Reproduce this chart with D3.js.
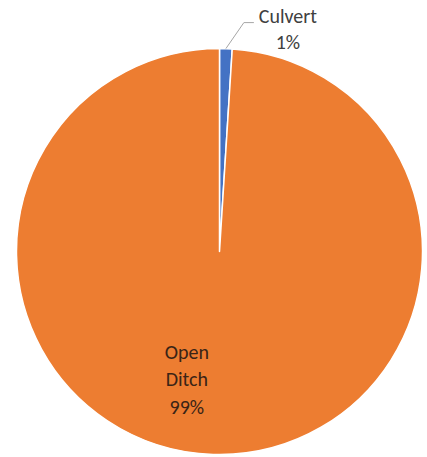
<!DOCTYPE html>
<html>
<head>
<meta charset="utf-8">
<script src="https://cdn.jsdelivr.net/npm/d3@7"></script>
<style>
  html, body { margin: 0; padding: 0; background: #ffffff; }
  svg { display: block; }
</style>
</head>
<body>
<script>
const categories = ["Culvert", "Open Ditch"];
const values = [1, 99];
const labelLines = [["Culvert", "1%"], ["Open", "Ditch", "99%"]];
const colors = ["#4472C4", "#ED7D31"];

const W = 427, H = 457;
const cx = 219.5, cy = 251.5, R = 203;

const svg = d3.select("body").append("svg")
  .attr("width", W).attr("height", H)
  .style("font-family", "Carlito, Calibri, Lato, sans-serif");

const pie = d3.pie().sort(null).value(d => d.value).startAngle(0).endAngle(2 * Math.PI);
const data = categories.map((c, i) => ({ name: c, value: values[i], i }));
const arcs = pie(data);
const arc = d3.arc().innerRadius(0).outerRadius(R);

const g = svg.append("g").attr("transform", `translate(${cx},${cy})`);

g.selectAll("path.slice").data(arcs).join("path")
  .attr("class", "slice")
  .attr("d", arc)
  .attr("fill", d => colors[d.data.i])
  .attr("stroke", "#ffffff")
  .attr("stroke-width", 1.5)
  .attr("stroke-linejoin", "round");

function polar(angle, r) { return [r * Math.sin(angle), -r * Math.cos(angle)]; }

// Culvert label (outside with leader line)
const a0 = arcs[0];
const mid0 = (a0.startAngle + a0.endAngle) / 2;
const p1 = polar(mid0, R);
const p2 = [p1[0] + 18, p1[1] - 26];
const p3 = [p2[0] + 10, p2[1]];
g.append("polyline")
  .attr("points", [p1, p2, p3].map(p => p.join(",")).join(" "))
  .attr("fill", "none").attr("stroke", "#a6a6a6").attr("stroke-width", 1);

const lx0 = p3[0] + 34, ly0 = p3[1];
const t0 = g.append("text").attr("text-anchor", "middle").attr("fill", "#404040").attr("font-size", 20);
labelLines[0].forEach((s, k) => {
  t0.append("tspan").attr("x", lx0).attr("y", ly0 + 0.5 + k * 26).text(s);
});

// Open Ditch label (inside)
const a1 = arcs[1];
const mid1 = (a1.startAngle + a1.endAngle) / 2;
const pc = polar(mid1 + 0.217, 133);
const t1 = g.append("text").attr("text-anchor", "middle").attr("fill", "#3a2416").attr("font-size", 20);
labelLines[1].forEach((s, k) => {
  t1.append("tspan").attr("x", pc[0]).attr("y", pc[1] + 6 + (k - 1) * 27.5).text(s);
});
</script>
</body>
</html>
